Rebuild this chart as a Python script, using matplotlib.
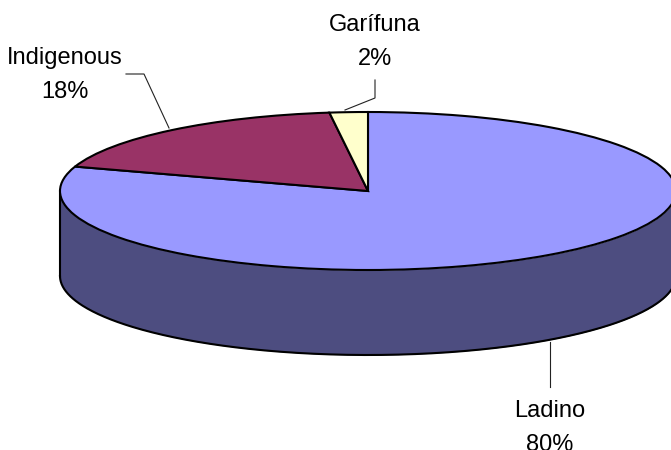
import numpy as np
import matplotlib
matplotlib.use("Agg")
import matplotlib.pyplot as plt

plt.rcParams['font.family'] = ['Liberation Sans', 'DejaVu Sans']

categories = ['Ladino', 'Indigenous', 'Garífuna']
percents = [80, 18, 2]
top_colors = ['#9999FF', '#993366', '#FFFFCC']
side_color = '#4D4D80'

W, H = 671, 450
CX, CY, RX, RY, DEPTH = 368, 191, 308, 79, 85


def ux(px):
    return (px - CX) / RX


def uy(py):
    return (CY - py) / RY


fig = plt.figure(figsize=(W / 100, H / 100), dpi=100)
ax = fig.add_axes([0, 0, 1, 1])

# Side wall of the pie: a lower copy of the disc joined to the top disc
drop = DEPTH / RY
theta = np.linspace(np.pi, 2 * np.pi, 400)
ax.fill_between(np.cos(theta), np.sin(theta), np.sin(theta) - drop,
                color=side_color, lw=0, zorder=1)
ax.plot(np.cos(theta), np.sin(theta) - drop, color='black', lw=1.5, zorder=2)
ax.plot([-1, -1], [0, -drop], color='black', lw=1.5, zorder=2)
ax.plot([1, 1], [0, -drop], color='black', lw=1.5, zorder=2)

# Top face, clockwise from 12 o'clock
wedges, _ = ax.pie(percents, colors=top_colors, startangle=90, counterclock=False,
                   radius=1, center=(0, 0),
                   wedgeprops=dict(edgecolor='black', linewidth=1.5, zorder=3))

ax.set_aspect('auto')
ax.set_xlim(ux(0), ux(W))
ax.set_ylim(uy(H), uy(0))
ax.axis('off')

# Leader lines
leaders = {
    'Ladino': [(549.5, 342), (549.5, 387)],
    'Indigenous': [(126, 74), (144, 74), (169, 128)],
    'Garífuna': [(375, 80), (375, 98), (345, 110)],
}
for pts in leaders.values():
    xs = [ux(p[0]) for p in pts]
    ys = [uy(p[1]) for p in pts]
    ax.plot(xs, ys, color='#222222', lw=0.8, zorder=4)

# Labels
label_pos = {'Ladino': (550, 428), 'Indigenous': (65, 75), 'Garífuna': (375, 42)}
for cat, pct in zip(categories, percents):
    x, y = label_pos[cat]
    ax.text(ux(x), uy(y), f"{cat}\n{pct}%", ha='center', va='center', fontsize=17,
            color='black', linespacing=1.67, zorder=5)

fig.savefig('out.png', dpi=100)
